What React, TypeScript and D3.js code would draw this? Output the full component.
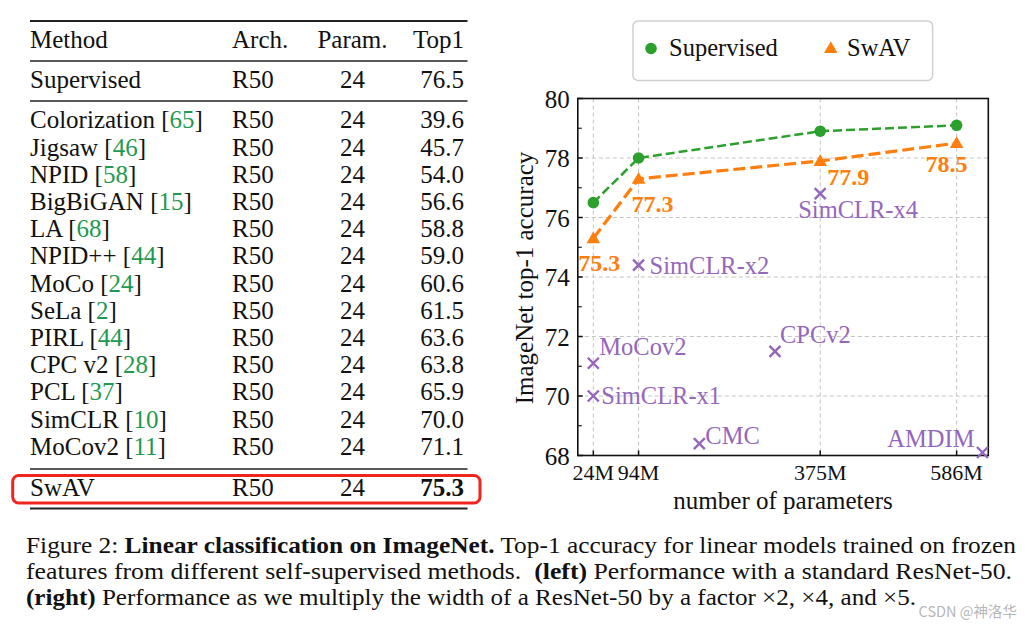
import React, { useEffect, useRef } from 'react';
import * as d3 from 'd3';

// ---- table data ----
const methodNames = ['Colorization', 'Jigsaw', 'NPID', 'BigBiGAN', 'LA', 'NPID++', 'MoCo', 'SeLa', 'PIRL', 'CPC v2', 'PCL', 'SimCLR', 'MoCov2'];
const methodRefs = ['65', '46', '58', '15', '68', '44', '24', '2', '44', '28', '37', '10', '11'];
const methodArch = ['R50', 'R50', 'R50', 'R50', 'R50', 'R50', 'R50', 'R50', 'R50', 'R50', 'R50', 'R50', 'R50'];
const methodParams = [24, 24, 24, 24, 24, 24, 24, 24, 24, 24, 24, 24, 24];
const methodTop1 = [39.6, 45.7, 54.0, 56.6, 58.8, 59.0, 60.6, 61.5, 63.6, 63.8, 65.9, 70.0, 71.1];
const tableHeader = ['Method', 'Arch.', 'Param.', 'Top1'];
const supervisedRow = ['Supervised', 'R50', '24', '76.5'];
const swavRow = ['SwAV', 'R50', '24', '75.3'];

// ---- chart data ----
const paramTicks = [24, 94, 375, 586];
const accTicks = [68, 70, 72, 74, 76, 78, 80];
const supervisedAcc = [76.5, 78.0, 78.9, 79.1];
const swavAcc = [75.3, 77.3, 77.9, 78.5];
const otherNames = ['SimCLR-x1', 'SimCLR-x2', 'SimCLR-x4', 'MoCov2', 'CPCv2', 'CMC', 'AMDIM'];
const otherParams = [24, 94, 375, 24, 305, 188, 626];
const otherAcc = [70.0, 74.4, 76.8, 71.1, 71.5, 68.4, 68.1];

// label placement (pixel offsets from the marker)
const otherLabelOffsets: Record<string, [number, number, string]> = {
  'SimCLR-x1': [8, 8, 'start'],
  'SimCLR-x2': [11, 9, 'start'],
  'SimCLR-x4': [-22, 24, 'start'],
  'MoCov2': [6, -8, 'start'],
  'CPCv2': [5, -8, 'start'],
  'CMC': [6, 0, 'start'],
  'AMDIM': [-8, -6, 'end'],
};
const swavLabelOffsets: [number, number][] = [[-15, 33], [-7, 33], [7, 24], [-31, 29]];

const captionLines = [
  [['Figure 2: ', false], ['Linear classification on ImageNet.', true], [' Top-1 accuracy for linear models trained on frozen', false]],
  [['features from different self-supervised methods.  ', false], ['(left)', true], [' Performance with a standard ResNet-50.', false]],
  [['(right)', true], [' Performance as we multiply the width of a ResNet-50 by a factor \u00d72, \u00d74, and \u00d75.', false]],
];

const SERIF = '"Liberation Serif", "Times New Roman", serif';
const GREEN = '#2ca02c';
const ORANGE = '#ff7f0e';
const PURPLE = '#9467bd';
const REF_GREEN = '#1f9a50';

export default function App() {
  const svgRef = useRef<SVGSVGElement>(null);

  useEffect(() => {
    if (!svgRef.current) return;
    const svg = d3.select(svgRef.current);
    svg.selectAll('*').remove();
    svg.append('rect').attr('width', 1033).attr('height', 629).attr('fill', 'white');

    // ================= table =================
    const t = svg.append('g').attr('font-family', SERIF).attr('font-size', 25).attr('fill', '#111');
    const colX = [30, 232, 352.5, 464];
    const anchors = ['start', 'start', 'middle', 'end'];
    const rowY = d3.scaleLinear().domain([0, 1]).range([128.3, 155.5]);

    // rules
    const rules = [[21, 2], [61, 1.3], [101, 1.3], [469, 1.3], [508.5, 2]];
    t.selectAll('line.rule')
      .data(rules)
      .enter()
      .append('line')
        .attr('x1', 30)
        .attr('x2', 467.5)
        .attr('y1', d => d[0])
        .attr('y2', d => d[0])
        .attr('stroke', '#222')
        .attr('stroke-width', d => d[1]);

    const simpleRow = (cells: string[], y: number, boldLast = false) => {
      cells.forEach((c, i) => {
        t.append('text')
          .attr('x', colX[i])
          .attr('y', y)
          .attr('text-anchor', anchors[i])
          .attr('font-weight', boldLast && i === 3 ? 'bold' : 'normal')
          .text(c);
      });
    };
    simpleRow(tableHeader, 48.3);
    simpleRow(supervisedRow, 88.3);

    methodNames.forEach((m, i) => {
      const y = rowY(i);
      const nameText = t.append('text').attr('x', colX[0]).attr('y', y);
      nameText.append('tspan').text(`${m} [`);
      nameText.append('tspan').attr('fill', REF_GREEN).text(methodRefs[i]);
      nameText.append('tspan').text(']');
      t.append('text').attr('x', colX[1]).attr('y', y).text(methodArch[i]);
      t.append('text').attr('x', colX[2]).attr('y', y).attr('text-anchor', 'middle').text(String(methodParams[i]));
      t.append('text').attr('x', colX[3]).attr('y', y).attr('text-anchor', 'end').text(d3.format('.1f')(methodTop1[i]));
    });

    simpleRow(swavRow, 496, true);

    svg.append('rect')
      .attr('x', 12.7)
      .attr('y', 475.5)
      .attr('width', 467.3)
      .attr('height', 27.5)
      .attr('rx', 6)
      .attr('fill', 'none')
      .attr('stroke', '#f0261d')
      .attr('stroke-width', 3);

    // ================= chart =================
    const x = d3.scaleLinear().domain([0, 635]).range([577.8, 988.3]);
    const y = d3.scaleLinear().domain([68, 80]).range([455.5, 98.5]);
    const [x0, x1] = x.range();
    const [yb, yt] = y.range();
    const c = svg.append('g').attr('font-family', SERIF);

    // gridlines
    c.selectAll('line.gx')
      .data(paramTicks)
      .enter()
      .append('line')
        .attr('x1', d => x(d))
        .attr('x2', d => x(d))
        .attr('y1', yt)
        .attr('y2', yb)
        .attr('stroke', '#c4c4c4')
        .attr('stroke-width', 1)
        .attr('stroke-dasharray', '4,3');
    c.selectAll('line.gy')
      .data(accTicks)
      .enter()
      .append('line')
        .attr('x1', x0)
        .attr('x2', x1)
        .attr('y1', d => y(d))
        .attr('y2', d => y(d))
        .attr('stroke', '#c4c4c4')
        .attr('stroke-width', 1)
        .attr('stroke-dasharray', '4,3');

    // ticks (inward)
    c.selectAll('line.tx')
      .data(paramTicks)
      .enter()
      .append('line')
        .attr('x1', d => x(d))
        .attr('x2', d => x(d))
        .attr('y1', yb)
        .attr('y2', yb - 5)
        .attr('stroke', '#111')
        .attr('stroke-width', 1.5);
    c.selectAll('line.ty')
      .data(d3.range(68, 80.5, 1))
      .enter()
      .append('line')
        .attr('x1', x0)
        .attr('x2', d => x0 + (d % 2 === 0 ? 5 : 4))
        .attr('y1', d => y(d))
        .attr('y2', d => y(d))
        .attr('stroke', '#111')
        .attr('stroke-width', d => (d % 2 === 0 ? 1.5 : 1.1));

    // spines
    c.append('rect')
      .attr('x', x0)
      .attr('y', yt)
      .attr('width', x1 - x0)
      .attr('height', yb - yt)
      .attr('fill', 'none')
      .attr('stroke', '#111')
      .attr('stroke-width', 1.6);

    // tick labels
    c.selectAll('text.yl')
      .data(accTicks)
      .enter()
      .append('text')
        .attr('x', x0 - 8)
        .attr('y', d => y(d) + 9)
        .attr('text-anchor', 'end')
        .attr('font-size', 25)
        .attr('fill', '#111')
        .text(d => d);
    c.selectAll('text.xl')
      .data(paramTicks)
      .enter()
      .append('text')
        .attr('x', d => x(d))
        .attr('y', yb + 24.5)
        .attr('text-anchor', 'middle')
        .attr('font-size', 22)
        .attr('fill', '#111')
        .text(d => `${d}M`);

    // axis labels
    c.append('text')
      .attr('x', (x0 + x1) / 2)
      .attr('y', 508.5)
      .attr('text-anchor', 'middle')
      .attr('font-size', 25)
      .attr('fill', '#111')
      .text('number of parameters');
    c.append('text')
      .attr('transform', `translate(533,${(yt + yb) / 2 + 1}) rotate(-90)`)
      .attr('text-anchor', 'middle')
      .attr('font-size', 25)
      .attr('fill', '#111')
      .text('ImageNet top-1 accuracy');

    // other methods
    const cross = (g: any, cx: number, cy: number) => {
      const s = 5.5;
      g.append('path')
        .attr('d', `M${cx - s},${cy - s}L${cx + s},${cy + s}M${cx - s},${cy + s}L${cx + s},${cy - s}`)
        .attr('stroke', PURPLE)
        .attr('stroke-width', 2.4);
    };
    otherNames.forEach((name, i) => {
      const px = x(otherParams[i]);
      const py = y(otherAcc[i]);
      cross(c, px, py);
      const [dx, dy, anchor] = otherLabelOffsets[name];
      c.append('text')
        .attr('x', px + dx)
        .attr('y', py + dy)
        .attr('text-anchor', anchor)
        .attr('font-size', 24.5)
        .attr('fill', PURPLE)
        .text(name);
    });

    // series lines
    const line = d3.line<number>()
      .x((_, i) => x(paramTicks[i]))
      .y(d => y(d));
    c.append('path')
      .datum(supervisedAcc)
      .attr('fill', 'none')
      .attr('stroke', GREEN)
      .attr('stroke-width', 2.5)
      .attr('stroke-dasharray', '9,4')
      .attr('d', line);
    c.append('path')
      .datum(swavAcc)
      .attr('fill', 'none')
      .attr('stroke', ORANGE)
      .attr('stroke-width', 3.2)
      .attr('stroke-dasharray', '12,5')
      .attr('d', line);

    c.selectAll('circle.sup')
      .data(supervisedAcc)
      .enter()
      .append('circle')
        .attr('cx', (_, i) => x(paramTicks[i]))
        .attr('cy', d => y(d))
        .attr('r', 5.8)
        .attr('fill', GREEN);

    const tri = d3.symbol().type(d3.symbolTriangle).size(80);
    c.selectAll('path.swav')
      .data(swavAcc)
      .enter()
      .append('path')
        .attr('transform', (d, i) => `translate(${x(paramTicks[i])},${y(d) + 1})`)
        .attr('d', tri)
        .attr('fill', ORANGE);

    c.selectAll('text.swavval')
      .data(swavAcc)
      .enter()
      .append('text')
        .attr('x', (_, i) => x(paramTicks[i]) + swavLabelOffsets[i][0])
        .attr('y', (d, i) => y(d) + swavLabelOffsets[i][1])
        .attr('font-size', 24)
        .attr('font-weight', 'bold')
        .attr('fill', ORANGE)
        .text(d => d3.format('.1f')(d));

    // legend
    const lg = c.append('g');
    lg.append('rect')
      .attr('x', 633)
      .attr('y', 21)
      .attr('width', 299.6)
      .attr('height', 59.4)
      .attr('rx', 5)
      .attr('fill', 'white')
      .attr('stroke', '#cfcfcf')
      .attr('stroke-width', 1.5);
    lg.append('circle').attr('cx', 651).attr('cy', 48.5).attr('r', 5.8).attr('fill', GREEN);
    lg.append('text').attr('x', 669).attr('y', 56).attr('font-size', 24.5).attr('fill', '#111').text('Supervised');
    lg.append('path').attr('transform', 'translate(830.8,49)').attr('d', tri).attr('fill', ORANGE);
    lg.append('text').attr('x', 847).attr('y', 56).attr('font-size', 24.5).attr('fill', '#111').text('SwAV');

    // ================= caption =================
    const cap = svg.append('g').attr('font-family', SERIF).attr('font-size', 23).attr('fill', '#111');
    const capY = [552.5, 578.5, 604.5];
    const capLen = [990, 986, 890];
    captionLines.forEach((parts, li) => {
      const tx = cap.append('text')
        .attr('x', 26)
        .attr('y', capY[li])
        .attr('textLength', capLen[li])
        .attr('lengthAdjust', 'spacingAndGlyphs')
        .attr('xml:space', 'preserve');
      parts.forEach(([s, b]) => {
        tx.append('tspan').attr('font-weight', b ? 'bold' : 'normal').text(s as string);
      });
    });

    // watermark
    svg.append('text')
      .attr('x', 1017)
      .attr('y', 616.5)
      .attr('text-anchor', 'end')
      .attr('font-family', '"Noto Sans CJK SC", "Noto Sans", sans-serif')
      .attr('font-size', 14.5)
      .attr('fill', '#a8a8a8')
      .attr('fill-opacity', 0.85)
      .text('CSDN @神洛华');
  }, []);

  return (
    <div style={{ position: 'absolute', left: 0, top: 0 }}>
      <svg ref={svgRef} width={1033} height={629} style={{ display: 'block' }} />
    </div>
  );
}
